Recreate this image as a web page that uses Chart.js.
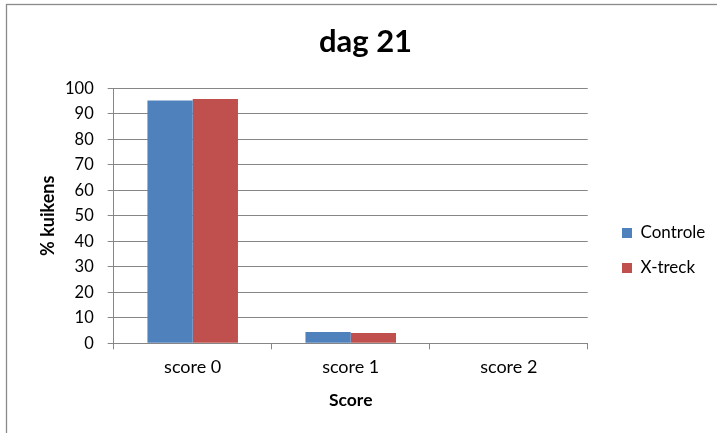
<!DOCTYPE html>
<html><head><meta charset="utf-8">
<script src="https://cdn.jsdelivr.net/npm/chart.js@4"></script>
<style>html,body{margin:0;padding:0;background:#fff;overflow:hidden}</style>
</head><body>
<canvas id="c" width="717" height="433"></canvas>
<script>
const categories = ['score 0', 'score 1', 'score 2'];
const seriesNames = ['Controle', 'X-treck'];
const controleValues = [95.2, 4.4, 0];
const xtreckValues = [95.8, 4.0, 0];
const yMin = 0, yMax = 100, yStep = 10;
const chartTitle = 'dag 21';
const yTitle = '% kuikens';
const xTitle = 'Score';

const FONT = 'Lato';
const GRID = '#868686';

const bgPlugin = {
  id: 'bg',
  beforeDraw(chart) {
    const ctx = chart.ctx;
    ctx.save();
    ctx.fillStyle = '#fff';
    ctx.fillRect(0, 0, chart.width, chart.height);
    ctx.strokeStyle = '#8a8a8a';
    ctx.lineWidth = 1.3;
    ctx.strokeRect(6.5, 4.5, 900, 700);
    ctx.restore();
  }
};
const legendPlace = {
  id: 'legendPlace',
  afterLayout(chart) {
    const lg = chart.legend;
    if (!lg) return;
    const pad = lg.options.labels.padding;
    const w = lg.width, h = lg.height;
    const hb = lg.legendHitBoxes && lg.legendHitBoxes[0];
    const ih = hb ? hb.height : 17;
    lg.left = 622 - pad; lg.right = lg.left + w;
    lg.top = 233 - ih / 2 - pad; lg.bottom = lg.top + h;
  }
};

new Chart(document.getElementById('c'), {
  type: 'bar',
  data: {
    labels: categories,
    datasets: [
      { label: seriesNames[0], data: controleValues, backgroundColor: '#4F81BD', borderWidth: 0 },
      { label: seriesNames[1], data: xtreckValues, backgroundColor: '#C0504D', borderWidth: 0 }
    ]
  },
  options: {
    responsive: false,
    animation: false,
    devicePixelRatio: 1,
    datasets: { bar: { barPercentage: 1, categoryPercentage: 0.573 } },
    layout: { padding: { left: 32, right: 18, top: 5, bottom: 0 } },
    plugins: {
      tooltip: { enabled: false },
      title: {
        display: true, text: chartTitle, color: '#000',
        font: { family: FONT, size: 31, weight: 'bold', lineHeight: 1.2 },
        padding: { top: 18.4, bottom: 27.7 }
      },
      legend: {
        position: 'right', align: 'start',
        labels: {
          color: '#000', boxWidth: 10, boxHeight: 10, padding: 18,
          font: { family: FONT, size: 17 }
        }
      }
    },
    scales: {
      x: {
        afterFit(s) { s.height = 89.7; },
        grid: { display: true, drawOnChartArea: false, drawTicks: true, tickLength: 6, color: GRID, offset: true },
        border: { display: true, color: GRID, width: 1 },
        ticks: { color: '#000', font: { family: FONT, size: 18 }, padding: 7 },
        title: { display: true, text: xTitle, color: '#000', font: { family: FONT, size: 17.5, weight: 'bold', lineHeight: 1.2 }, padding: { bottom: 22.5 } }
      },
      y: {
        min: yMin, max: yMax,
        afterFit(s) { s.width = 81.7; },
        ticks: { stepSize: yStep, color: '#000', font: { family: FONT, size: 16.5 }, padding: 14 },
        grid: { color: GRID, tickLength: 6, drawTicks: true },
        border: { display: true, color: GRID, width: 1 },
        title: { display: true, text: yTitle, color: '#000', font: { family: FONT, size: 18, weight: 'bold', lineHeight: 1.2 }, padding: { top: 5.2 } }
      }
    }
  },
  plugins: [bgPlugin, legendPlace]
});
</script>
</body></html>
